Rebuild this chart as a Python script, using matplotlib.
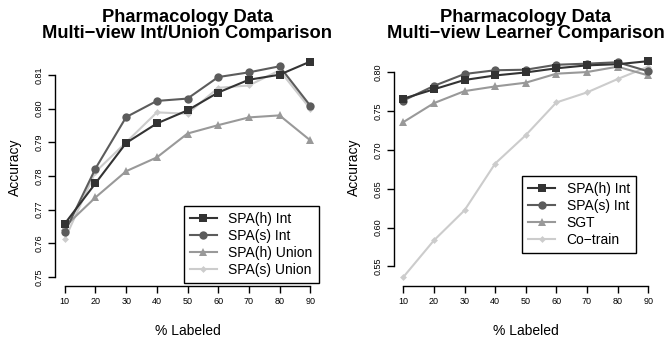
import matplotlib
matplotlib.use("Agg")
import matplotlib.pyplot as plt

pct = [10, 20, 30, 40, 50, 60, 70, 80, 90]

# left panel: intersection vs union
spa_h_int = [0.7658, 0.7778, 0.7898, 0.7956, 0.7995, 0.8048, 0.8086, 0.8101, 0.8140]
spa_s_int = [0.7633, 0.7822, 0.7975, 0.8023, 0.8030, 0.8094, 0.8108, 0.8126, 0.8009]
spa_h_union = [0.7649, 0.7736, 0.7814, 0.7855, 0.7926, 0.7951, 0.7974, 0.7980, 0.7906]
spa_s_union = [0.7612, 0.7812, 0.7900, 0.7989, 0.7985, 0.8062, 0.8069, 0.8114, 0.8000]

# right panel: learner comparison
sgt = [0.7356, 0.7600, 0.7755, 0.7815, 0.7863, 0.7979, 0.8000, 0.8069, 0.7957]
cotrain = [0.5363, 0.5835, 0.6222, 0.6823, 0.7188, 0.7609, 0.7738, 0.7910, 0.8069]

left_ticks = [0.75, 0.76, 0.77, 0.78, 0.79, 0.80, 0.81]
right_ticks = [0.55, 0.60, 0.65, 0.70, 0.75, 0.80]

plt.rcParams['font.family'] = ['Liberation Sans', 'DejaVu Sans']

fig = plt.figure(figsize=(6.67, 3.41), dpi=100)
W, H = 667.0, 341.0
bot = 1 - 285.5 / H
top = 1 - 49.5 / H
ax1 = fig.add_axes([55 / W, bot, 265 / W, top - bot])
ax2 = fig.add_axes([393.5 / W, bot, 264.5 / W, top - bot])

styles = [
    ("#333333", "s", 6.0),
    ("#5c5c5c", "o", 6.0),
    ("#999999", "^", 6.0),
    ("#cccccc", "D", 3.5),
]


def setup(ax, ticks, ylim, title):
    ax.set_xlim(10 - 3.2, 90 + 3.2)
    ax.set_ylim(*ylim)
    ax.set_xticks(pct)
    ax.set_yticks(ticks)
    ax.set_yticklabels(["%.2f" % t for t in ticks], rotation=90, va="center")
    ax.tick_params(axis="both", labelsize=6.5, length=5, width=1, direction="out", pad=3)
    for s in ("top", "right"):
        ax.spines[s].set_visible(False)
    ax.spines["left"].set_bounds(ticks[0], ticks[-1])
    ax.spines["bottom"].set_bounds(pct[0], pct[-1])
    ax.spines["left"].set_linewidth(1)
    ax.spines["bottom"].set_linewidth(1)
    ax.set_xlabel("% Labeled", fontsize=10, labelpad=13)
    ax.set_ylabel("Accuracy", fontsize=10, labelpad=9)
    ax.set_title(title, fontsize=13.2, fontweight="bold", pad=8, linespacing=0.95)


left_series = [(spa_h_int, "SPA(h) Int"), (spa_s_int, "SPA(s) Int"),
               (spa_h_union, "SPA(h) Union"), (spa_s_union, "SPA(s) Union")]
right_series = [(spa_h_int, "SPA(h) Int"), (spa_s_int, "SPA(s) Int"),
                (sgt, "SGT"), (cotrain, "Co\u2212train")]

for ax, series in ((ax1, left_series), (ax2, right_series)):
    for (vals, lab), (c, m, ms) in reversed(list(zip(series, styles))):
        ax.plot(pct, vals, color=c, marker=m, markersize=ms, linewidth=1.5,
                markeredgewidth=0, label=lab)

setup(ax1, left_ticks, (0.7474, 0.8176),
      "Pharmacology Data\nMulti\u2212view Int/Union Comparison")
setup(ax2, right_ticks, (0.5255, 0.829),
      "Pharmacology Data\nMulti\u2212view Learner Comparison")

for ax, anchor in ((ax1, (0.996, 0.011)), (ax2, (0.917, 0.138))):
    h, l = ax.get_legend_handles_labels()
    leg = ax.legend(h[::-1], l[::-1], loc="lower right", bbox_to_anchor=anchor,
                    borderaxespad=0, fancybox=False, framealpha=1, fontsize=10,
                    handlelength=1.9, handletextpad=0.85, labelspacing=0.2,
                    borderpad=0.45)
    leg.get_frame().set_edgecolor("black")
    leg.get_frame().set_linewidth(1)

fig.savefig("out.png", dpi=100)
